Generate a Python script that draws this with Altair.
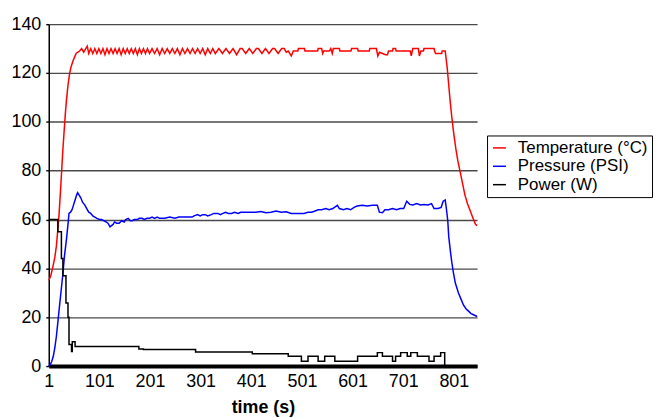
import altair as alt
import pandas as pd

# ---- data ----
temp_t = [1, 5, 9, 13, 16, 19, 21, 24, 26, 29, 31, 34, 36, 39, 42, 45, 49, 52, 55, 58, 62,
          66, 70, 74, 77, 80, 84, 88, 92, 96, 100, 104, 108, 112, 116, 120, 124, 128, 132, 136,
          140, 144, 148, 152, 156, 160, 164, 168, 172, 176, 180, 184, 188, 192, 196, 200,
          205, 210, 215, 220, 225, 230, 235, 240, 245, 250, 255, 260, 265, 270, 275, 280,
          285, 290, 295, 300, 305, 310, 315, 320, 325, 330,
          337, 344, 351, 358, 365, 372, 379, 383, 390, 397, 404, 411, 415, 422, 429, 436,
          443, 447, 454, 461, 466, 470, 474,
          480, 484, 493, 494, 506, 507, 532, 533, 540, 542, 544, 555, 558, 561, 563, 575,
          576, 598, 599, 611, 612, 634, 635, 648, 651, 654, 660, 666, 670, 672, 680, 681,
          686, 687, 715, 717, 720, 731, 733, 736, 741, 742, 762, 763, 765, 777, 778, 784,
          788, 791, 794, 797, 801, 805, 809, 813, 818, 823, 828, 833, 838, 844, 847]
temp_v = [35, 37, 40.5, 44.5, 49, 56, 61, 71, 78, 89, 95, 104, 109, 115, 119.5, 122.5, 125, 126.5, 128, 128.5, 129,
          130, 128.5, 130, 131, 128, 130, 128, 130, 128, 130, 128, 130, 127.5, 130, 128, 130, 128, 130, 128,
          130, 127.5, 130, 128, 130, 128, 130, 128, 130, 127.5, 130, 128, 130, 128, 130, 128,
          130, 128, 130, 127.5, 130, 128, 130, 128, 130, 128, 130, 127.5, 130, 128, 130, 128,
          130, 128, 130, 128, 130, 127.5, 130, 128, 130, 128,
          130, 128, 130, 128, 130, 127.5, 130, 130, 128, 130, 128, 130, 130, 128, 130, 128,
          130, 130, 128, 130, 130, 128.5, 129,
          127, 129, 129, 130, 130, 129, 129, 130, 130, 128, 129, 129, 130, 128, 130, 130,
          129, 129, 130, 130, 129, 129, 130, 130, 127, 128.5, 128, 127.5, 127.5, 129, 129, 130,
          130, 129, 129, 127, 130, 130, 127, 129, 129, 130, 130, 129, 128, 128, 129, 129,
          122, 115, 108, 102, 95, 89, 84, 80, 75, 70, 66.5, 63.8, 61, 58, 57.5]

pres_t = [1, 4, 7, 10, 13, 16, 19, 22, 25, 29, 32, 36, 39, 41, 44, 47, 50, 53, 56, 58, 61,
          64, 68, 72, 76, 80, 84, 88, 92, 96, 101, 105, 110, 114, 118, 122, 125, 128, 131, 135,
          140, 145, 150, 153, 158, 162, 166, 170, 176, 180, 185, 190, 195, 200, 205, 210, 215,
          220, 230, 240, 250, 258, 265, 275, 284, 288, 295, 300, 305, 310, 315, 322, 327, 335,
          340, 345, 350, 356, 362, 368, 375, 380, 390, 400, 410, 420, 430, 440, 450, 460, 470,
          480, 488, 495, 505, 513, 520, 527, 533, 540, 548, 555, 562, 571, 575, 583, 590, 597,
          604, 610, 620, 630, 640, 650, 654, 660, 665, 672, 680, 688, 695, 702, 708, 714, 720,
          728, 735, 742, 750, 757, 762, 770, 776, 780, 784, 786, 789, 791, 794, 797, 800, 804,
          810, 815, 820, 825, 830, 835, 840, 847]
pres_v = [0, 0.5, 2, 4, 7.5, 12, 18, 24, 30, 38, 45, 52, 58, 62.5, 63, 64, 66, 68, 70, 71, 70,
          69, 67, 66, 64.5, 63, 62.5, 61.5, 61, 60.5, 60, 60, 59.5, 59, 58.5, 57, 57.5, 58, 59, 58.5,
          58.5, 59.5, 59, 60, 60.5, 59.5, 59.5, 60, 60, 60.5, 60.5, 60, 60.5, 60.5, 61, 60.5, 61,
          60.5, 60.5, 61, 60.5, 61, 61, 61, 61, 61.5, 62, 61.5, 62, 62, 61.5, 62, 62.5, 62.5,
          62, 62.5, 63, 62.5, 62.5, 63, 62.5, 63, 63, 63, 63, 63.3, 62.8, 63, 63.5, 63, 63.2,
          62.5, 62.5, 62.5, 62.5, 63, 63, 63.5, 64, 64, 64.5, 64, 64.5, 65.8, 64.5, 64, 64.5, 64,
          65, 65.5, 65.8, 65.5, 65.8, 65.8, 63, 62.8, 64, 64, 64.5, 64, 64.5, 64.5, 67.5, 66.2, 66,
          66.5, 66, 66.2, 66, 66.5, 64.5, 64.5, 65, 67.5, 68, 65, 59.7, 53, 47.5, 42.5, 38.5, 34,
          30, 27.5, 25, 23.5, 22.5, 21.5, 21, 20.3]

pow_t = [1, 19, 26, 29, 35, 39, 41, 46, 47.5, 53, 179, 188, 291, 403, 474, 500, 513, 533,
         546, 566, 611, 650, 660, 680, 686, 696, 709, 716, 729, 752, 762, 775, 783, 847]
pow_v = [60, 55, 44, 37, 25.8, 20, 8.8, 6, 10, 8, 7, 6.8, 5.8, 5, 4, 2, 4, 2,
         4, 2, 4, 5.5, 4, 2, 4, 5.5, 4, 5.5, 4, 2, 4, 5.5, 0, 0]

series_names = ["Temperature (°C)", "Pressure (PSI)", "Power (W)"]
series_colors = ["#ff0000", "#0000ff", "#000000"]
x_ticks = [1, 101, 201, 301, 401, 501, 601, 701, 801]
y_ticks = [0, 20, 40, 60, 80, 100, 120, 140]

df_lin = pd.DataFrame({
    "t": temp_t + pres_t,
    "v": temp_v + pres_v,
    "series": [series_names[0]] * len(temp_t) + [series_names[1]] * len(pres_t),
})
df_pow = pd.DataFrame({"t": pow_t, "v": pow_v, "series": [series_names[2]] * len(pow_t)})

FONT = "Liberation Sans"

x_enc = alt.X("t:Q", scale=alt.Scale(domain=[1, 847], nice=False, zero=False),
              axis=alt.Axis(values=x_ticks, title="time (s)", grid=False, ticks=False,
                            domainColor="#000000", domainWidth=4, labelPadding=7,
                            titleFontWeight="bold", titlePadding=8, labelFlush=False))
y_enc = alt.Y("v:Q", scale=alt.Scale(domain=[0, 140], nice=False),
              axis=alt.Axis(values=y_ticks, title=None, grid=True, gridColor="#4a4a4a",
                            gridWidth=1.4, tickSize=3, tickColor="#000000", tickWidth=1.4,
                            domainColor="#000000", domainWidth=1.5, labelPadding=5))
color_enc = alt.Color("series:N", scale=alt.Scale(domain=series_names, range=series_colors),
                      legend=alt.Legend(title=None, orient="none", legendX=441, legendY=112,
                                        strokeColor="#000000", fillColor="#ffffff", padding=4,
                                        symbolType="stroke", symbolSize=170, symbolStrokeWidth=1.5,
                                        labelFontSize=17, labelFont=FONT, labelColor="#000000",
                                        labelOffset=10, rowPadding=0.5))

lines = alt.Chart(df_lin).mark_line(strokeWidth=1.5).encode(x=x_enc, y=y_enc, color=color_enc)
power = alt.Chart(df_pow).mark_line(strokeWidth=1.5, interpolate="step-after").encode(
    x=x_enc, y=y_enc, color=color_enc)

chart = alt.layer(lines, power).properties(
    width=431, height=344,
    autosize=alt.AutoSizeParams(type="none"),
    padding={"left": 41, "top": 15, "right": 180, "bottom": 51},
).configure_axis(
    labelFont=FONT, labelFontSize=18, labelColor="#000000",
    titleFont=FONT, titleFontSize=18, titleColor="#000000",
).configure_view(stroke=None)

chart.save("out.html", embed_options={"renderer": "svg", "actions": False})
